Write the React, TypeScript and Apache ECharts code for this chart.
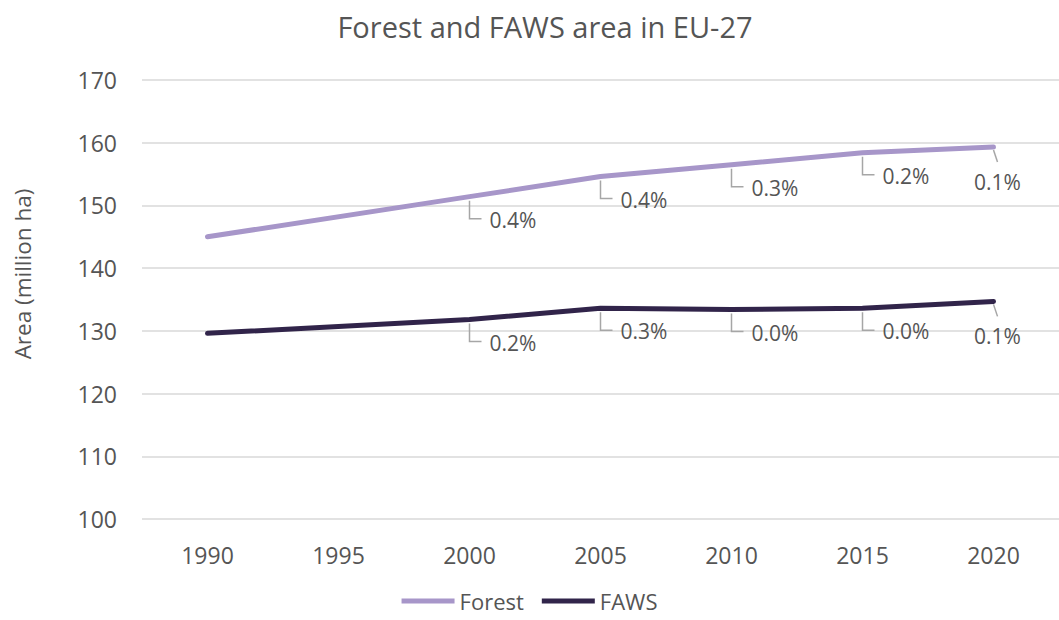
import React, { useEffect, useRef } from "react";
import * as echarts from "echarts";

const years = ["1990", "1995", "2000", "2005", "2010", "2015", "2020"];
const forestArea = [145.0, null, 151.4, 154.6, 156.5, 158.4, 159.3];
const fawsArea = [129.6, null, 131.8, 133.6, 133.4, 133.6, 134.7];
const forestRates = [null, null, "0.4%", "0.4%", "0.3%", "0.2%", "0.1%"];
const fawsRates = [null, null, "0.2%", "0.3%", "0.0%", "0.0%", "0.1%"];
const yTicks = { min: 100, max: 170, interval: 10 };

const TEXT = "#555555";
const FONT = "'Open Sans', 'Noto Sans', sans-serif";
const FOREST_COLOR = "#A796C9";
const FAWS_COLOR = "#31244A";
const LEADER = "#A6A6A6";

function labelSeries(name: string, values: (number | null)[], rates: (string | null)[]) {
  const items: { idx: number; v: number; text: string }[] = [];
  values.forEach((v, i) => {
    const r = rates[i];
    if (v != null && r != null) items.push({ idx: i, v, text: r });
  });
  return {
    type: "custom",
    name: name + "-labels",
    coordinateSystem: "cartesian2d",
    silent: true,
    z: 5,
    data: items.map((it) => [it.idx, it.v]),
    renderItem: (params: any, api: any) => {
      const it = items[params.dataIndex];
      const p = api.coord([api.value(0), api.value(1)]);
      const x = p[0];
      const y = p[1];
      const isLast = it.idx === years.length - 1;
      if (isLast) {
        return {
          type: "group",
          children: [
            {
              type: "line",
              shape: { x1: x, y1: y + 3, x2: x + 4, y2: y + 15 },
              style: { stroke: LEADER, lineWidth: 1.5 },
            },
            {
              type: "text",
              x: x + 4,
              y: y + 35,
              style: {
                text: it.text,
                fill: TEXT,
                font: `21px ${FONT}`,
                align: "center",
                verticalAlign: "middle",
              },
            },
          ],
        };
      }
      return {
        type: "group",
        children: [
          {
            type: "polyline",
            shape: {
              points: [
                [x, y + 4],
                [x, y + 22],
                [x + 12, y + 22],
              ],
            },
            style: { stroke: LEADER, lineWidth: 1.5, fill: "none" },
          },
          {
            type: "text",
            x: x + 20,
            y: y + 23,
            style: {
              text: it.text,
              fill: TEXT,
              font: `21px ${FONT}`,
              align: "left",
              verticalAlign: "middle",
            },
          },
        ],
      };
    },
  };
}

export default function App() {
  const ref = useRef<HTMLDivElement>(null);
  useEffect(() => {
    if (!ref.current) return;
    const chart = echarts.init(ref.current, undefined, { renderer: "svg" });
    chart.setOption({
      animation: false,
      backgroundColor: "#ffffff",
      textStyle: { fontFamily: FONT, color: TEXT },
      title: {
        text: "Forest and FAWS area in EU-27",
        left: 540,
        top: 7,
        textAlign: "center",
        textStyle: { fontSize: 29, fontWeight: "normal", color: TEXT, fontFamily: FONT },
      },
      grid: { left: 142, top: 80, width: 932, height: 439 },
      legend: {
        data: ["Forest", "FAWS"],
        left: "center",
        top: 585,
        icon: "rect",
        itemWidth: 53,
        itemHeight: 5,
        itemGap: 18,
        textStyle: { fontSize: 22, color: TEXT, fontFamily: FONT },
      },
      graphic: [
        {
          type: "text",
          x: 22,
          y: 274,
          rotation: Math.PI / 2,
          style: {
            text: "Area (million ha)",
            fill: TEXT,
            font: `22.5px ${FONT}`,
            align: "center",
            verticalAlign: "middle",
          },
        },
      ],
      xAxis: {
        type: "category",
        data: years,
        boundaryGap: true,
        axisLine: { show: false },
        axisTick: { show: false },
        axisLabel: { fontSize: 23, color: TEXT, margin: 24, fontFamily: FONT },
      },
      yAxis: {
        type: "value",
        min: yTicks.min,
        max: yTicks.max,
        interval: yTicks.interval,
        axisLine: { show: false },
        axisTick: { show: false },
        axisLabel: { fontSize: 23, color: TEXT, margin: 25, fontFamily: FONT },
        splitLine: { lineStyle: { color: "#D9D9D9", width: 1.5 } },
      },
      series: [
        {
          name: "Forest",
          type: "line",
          data: forestArea,
          connectNulls: true,
          symbol: "none",
          color: FOREST_COLOR,
          lineStyle: { width: 5, color: FOREST_COLOR, cap: "round", join: "round" },
          z: 3,
        },
        {
          name: "FAWS",
          type: "line",
          data: fawsArea,
          connectNulls: true,
          symbol: "none",
          color: FAWS_COLOR,
          lineStyle: { width: 5, color: FAWS_COLOR, cap: "round", join: "round" },
          z: 3,
        },
        labelSeries("Forest", forestArea, forestRates),
        labelSeries("FAWS", fawsArea, fawsRates),
      ],
    });
    return () => chart.dispose();
  }, []);
  return <div ref={ref} style={{ width: 1059, height: 620, position: "absolute", left: 0, top: 0 }} />;
}
